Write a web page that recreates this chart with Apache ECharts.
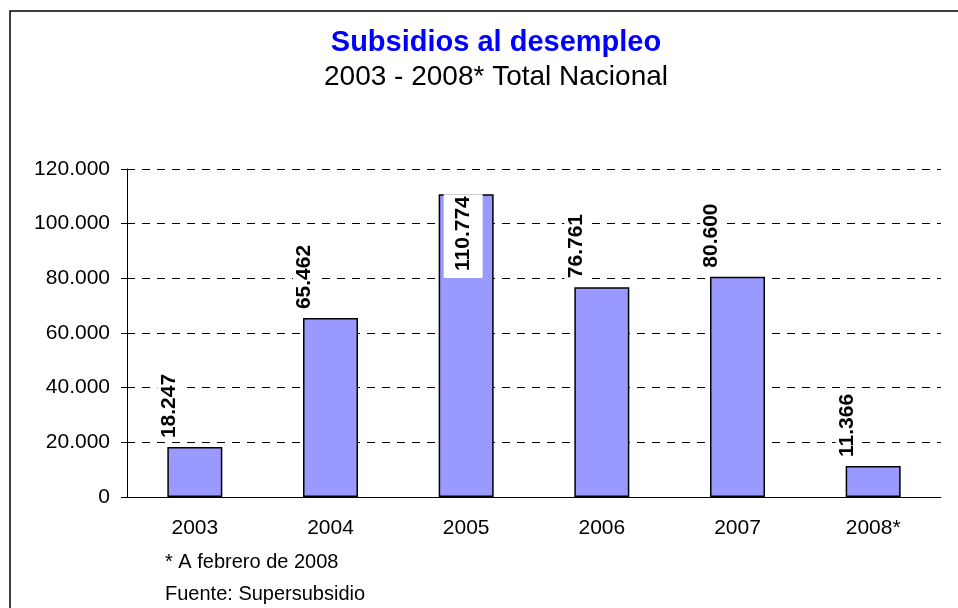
<html lang="es">
<head>
<meta charset="UTF-8">
<title>Subsidios al desempleo</title>
<script src="https://cdn.jsdelivr.net/npm/echarts@6/dist/echarts.min.js"></script>
<style>
  html, body { margin: 0; padding: 0; background: #fff; }
  #chart { width: 958px; height: 608px; }
</style>
</head>
<body>
<div id="chart"></div>
<script>
var years = ['2003', '2004', '2005', '2006', '2007', '2008*'];
var subsidios = [18247, 65462, 110774, 76761, 80600, 11366];
var notes = ['* A febrero de 2008', 'Fuente: Supersubsidio'];

function miles(v) {
    return String(Math.round(v)).replace(/\B(?=(\d{3})+(?!\d))/g, '.');
}

var fontFam = '"Liberation Sans", Arial, sans-serif';
var mychart = echarts.init(document.getElementById('chart'));

var barData = subsidios.map(function (v) {
    var item = { value: v };
    if (v > 100000) {
        // no cabe encima: etiqueta dentro de la barra con fondo blanco
        item.label = {
            position: 'insideTop',
            align: 'right',
            distance: 0,
            offset: [0, -3],
            padding: [9, 2, 9, 7]
        };
    }
    return item;
});

var option = {
    animation: false,
    textStyle: { fontFamily: fontFam },
    title: {
        text: 'Subsidios al desempleo',
        subtext: '2003 - 2008* Total Nacional',
        left: 491,
        textAlign: 'center',
        top: 23,
        itemGap: 6,
        textStyle: { color: '#0000ff', fontSize: 29, fontWeight: 'bold', fontFamily: fontFam },
        subtextStyle: { color: '#000', fontSize: 28, fontFamily: fontFam }
    },
    grid: { left: 127, right: 17, top: 169, bottom: 111 },
    xAxis: {
        type: 'category',
        data: years,
        axisLine: { lineStyle: { color: '#000', width: 1 } },
        axisTick: { length: 6, lineStyle: { color: '#000' } },
        axisLabel: { color: '#000', fontSize: 21, margin: 21 }
    },
    yAxis: {
        type: 'value',
        min: 0,
        max: 120000,
        interval: 20000,
        axisLine: { show: true, lineStyle: { color: '#000', width: 1 } },
        axisTick: { show: true, length: 6, lineStyle: { color: '#000' } },
        axisLabel: { color: '#000', fontSize: 21, margin: 17, formatter: miles },
        splitLine: { lineStyle: { color: '#000', type: [8, 7], width: 1 } }
    },
    series: [{
        type: 'bar',
        data: barData,
        barWidth: 55,
        itemStyle: { color: '#9999ff', borderColor: '#000', borderWidth: 1.5 },
        label: {
            show: true,
            position: 'top',
            rotate: 90,
            align: 'left',
            verticalAlign: 'middle',
            distance: 7,
            offset: [0, -26],
            backgroundColor: '#fff',
            padding: [1, 2, 1, 2],
            color: '#000',
            fontSize: 21,
            fontWeight: 'bold',
            fontFamily: fontFam,
            formatter: function (p) { return miles(p.value); }
        }
    }],
    graphic: [
        {
            type: 'rect',
            shape: { x: 10, y: 11, width: 1000, height: 700 },
            style: { fill: 'none', stroke: '#000', lineWidth: 1.5 },
            silent: true
        },
        {
            type: 'text',
            left: 165,
            top: 552,
            style: { text: notes[0], fontSize: 20, fill: '#000', fontFamily: fontFam }
        },
        {
            type: 'text',
            left: 165,
            top: 584,
            style: { text: notes[1], fontSize: 20, fill: '#000', fontFamily: fontFam }
        }
    ]
};
mychart.setOption(option);
</script>
</body>
</html>
